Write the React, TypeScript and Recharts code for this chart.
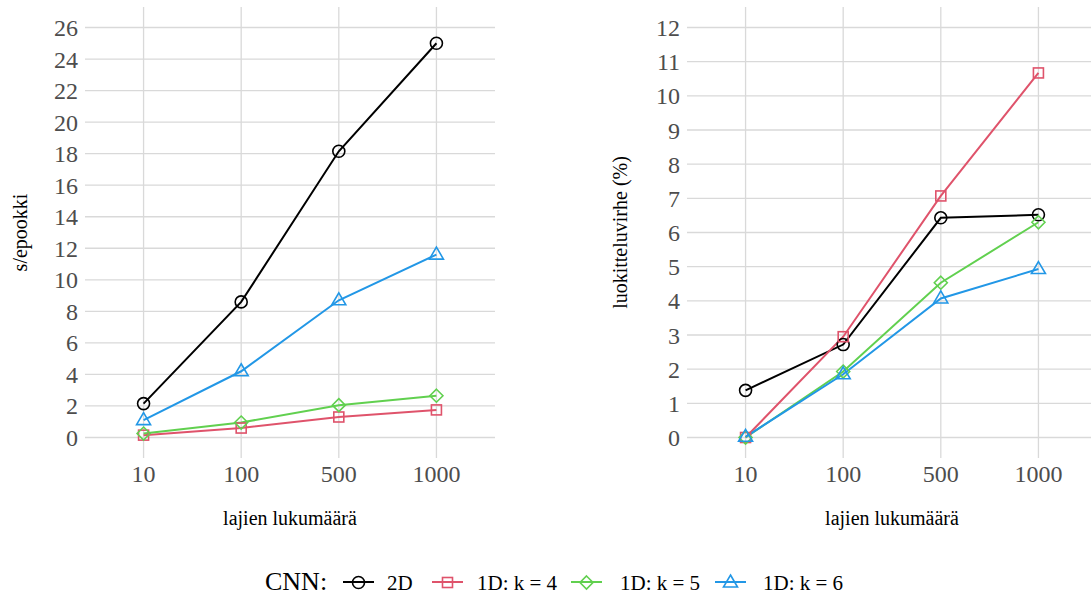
import React from "react";
import { LineChart, Line, XAxis, YAxis, CartesianGrid, Label } from "recharts";

// lajien lukumäärä (x-akseli)
const categories = ["10", "100", "500", "1000"];

// s/epookki
const time2D = [2.15, 8.6, 18.15, 25.0];
const timeK4 = [0.15, 0.6, 1.3, 1.75];
const timeK5 = [0.25, 0.95, 2.05, 2.65];
const timeK6 = [1.1, 4.2, 8.7, 11.6];

// luokitteluvirhe (%)
const err2D = [1.38, 2.72, 6.43, 6.52];
const errK4 = [0, 2.95, 7.07, 10.67];
const errK5 = [0, 1.93, 4.53, 6.3];
const errK6 = [0.02, 1.85, 4.07, 4.93];

const timeTicks = [0, 2, 4, 6, 8, 10, 12, 14, 16, 18, 20, 22, 24, 26];
const errTicks = [0, 1, 2, 3, 4, 5, 6, 7, 8, 9, 10, 11, 12];
const xTicks = [0, 1, 2, 3];

const seriesNames = ["2D", "1D: k = 4", "1D: k = 5", "1D: k = 6"];
const seriesKeys = ["s2d", "k4", "k5", "k6"];
const seriesColors = ["#000000", "#DF536B", "#61D04F", "#2297E6"];
const seriesShapes = ["circle", "square", "diamond", "triangle"];

const FONT = "Liberation Serif, DejaVu Serif, serif";
const GRID = "#d9d9d9";

// legend layout (px from left edge)
const legendKeyX = [343, 432, 571, 715];
const legendTextX = [387, 477, 620, 763];

const buildRows = (a: number[], b: number[], c: number[], d: number[]) =>
  categories.map((label, i) => ({ x: i, label, s2d: a[i], k4: b[i], k5: c[i], k6: d[i] }));

const timeRows = buildRows(time2D, timeK4, timeK5, timeK6);
const errRows = buildRows(err2D, errK4, errK5, errK6);

const Marker = ({ shape, cx, cy, color }: { shape: string; cx: number; cy: number; color: string }) => {
  const sw = 1.6;
  if (shape === "circle") return <circle cx={cx} cy={cy} r={6} fill="none" stroke={color} strokeWidth={sw} />;
  if (shape === "square") return <rect x={cx - 5} y={cy - 5} width={10} height={10} fill="none" stroke={color} strokeWidth={sw} />;
  if (shape === "diamond")
    return <polygon points={`${cx},${cy - 6.5} ${cx + 6.5},${cy} ${cx},${cy + 6.5} ${cx - 6.5},${cy}`} fill="none" stroke={color} strokeWidth={sw} />;
  return <polygon points={`${cx},${cy - 7.5} ${cx + 7},${cy + 4.5} ${cx - 7},${cy + 4.5}`} fill="none" stroke={color} strokeWidth={sw} />;
};

const makeDot = (shape: string, color: string) => (props: any) => {
  const { cx, cy, index } = props;
  if (cx == null || cy == null) return <g key={`d-${index}`} />;
  return (
    <g key={`d-${shape}-${index}`}>
      <Marker shape={shape} cx={cx} cy={cy} color={color} />
    </g>
  );
};

interface PanelProps {
  rows: any[];
  ticks: number[];
  domain: [number, number];
  yTitle: string;
  yAxisWidth: number;
}

const tickStyle = { fill: "#4d4d4d", fontSize: 24, fontFamily: FONT };

const Panel = ({ rows, ticks, domain, yTitle, yAxisWidth }: PanelProps) => {
  const titleX = 20;
  return (
    <LineChart
      width={500}
      height={540}
      data={rows}
      style={{ fontFamily: FONT }}
      margin={{ top: 7, right: 500 - yAxisWidth - 410, left: 0, bottom: 0 }}
    >
      <CartesianGrid stroke={GRID} strokeWidth={1.3} horizontalValues={ticks} verticalValues={xTicks} />
      <XAxis
        type="number"
        dataKey="x"
        domain={[-0.6, 3.6]}
        ticks={xTicks}
        interval={0}
        allowDataOverflow
        tickFormatter={(v: number) => categories[v]}
        tickLine={false}
        axisLine={false}
        tickSize={0}
        tickMargin={7}
        height={82}
        tick={tickStyle}
      >
        <Label
          content={(p: any) => {
            const vb = p.viewBox || { x: yAxisWidth, y: 458, width: 410 };
            return (
              <text x={vb.x + vb.width / 2} y={525} textAnchor="middle" fontSize={20} fontFamily={FONT} fill="#000">
                lajien lukumäärä
              </text>
            );
          }}
        />
      </XAxis>
      <YAxis
        type="number"
        domain={domain}
        ticks={ticks}
        interval={0}
        allowDataOverflow
        width={yAxisWidth}
        tickLine={false}
        axisLine={false}
        tickSize={0}
        tickMargin={7}
        tick={tickStyle}
      >
        <Label
          content={(p: any) => {
            const vb = p.viewBox || { y: 7, height: 451 };
            const cy = vb.y + vb.height / 2;
            return (
              <text
                x={titleX}
                y={cy}
                transform={`rotate(-90 ${titleX} ${cy})`}
                textAnchor="middle"
                dominantBaseline="central"
                fontSize={20}
                fontFamily={FONT}
                fill="#000"
              >
                {yTitle}
              </text>
            );
          }}
        />
      </YAxis>
      {seriesKeys.map((k, i) => (
        <Line
          key={k}
          dataKey={k}
          name={seriesNames[i]}
          stroke={seriesColors[i]}
          strokeWidth={2}
          dot={makeDot(seriesShapes[i], seriesColors[i])}
          activeDot={false}
          isAnimationActive={false}
        />
      ))}
    </LineChart>
  );
};

const LegendRow = () => (
  <div style={{ position: "absolute", left: 0, top: 568, width: 1091, height: 28, fontFamily: FONT, color: "#000" }}>
    <span style={{ position: "absolute", left: 265, top: 0, fontSize: 26, lineHeight: "28px" }}>CNN:</span>
    {seriesNames.map((name, i) => (
      <React.Fragment key={name}>
        <svg width={31} height={18} style={{ position: "absolute", left: legendKeyX[i], top: 5 }}>
          <line x1={0} y1={9} x2={31} y2={9} stroke={seriesColors[i]} strokeWidth={2} />
          <Marker shape={seriesShapes[i]} cx={15.5} cy={9.5} color={seriesColors[i]} />
        </svg>
        <span style={{ position: "absolute", left: legendTextX[i], top: 0, fontSize: 21, lineHeight: "30px", whiteSpace: "nowrap" }}>
          {name}
        </span>
      </React.Fragment>
    ))}
  </div>
);

export default function App() {
  return (
    <div style={{ position: "absolute", left: 0, top: 0, width: 1091, height: 595, overflow: "hidden", background: "#fff" }}>
      <div style={{ position: "absolute", left: 0, top: 0 }}>
        <Panel rows={timeRows} ticks={timeTicks} domain={[-1.3, 27.3]} yTitle="s/epookki" yAxisWidth={85} />
      </div>
      <div style={{ position: "absolute", left: 600, top: 0 }}>
        <Panel rows={errRows} ticks={errTicks} domain={[-0.6, 12.6]} yTitle="luokitteluvirhe (%)" yAxisWidth={87} />
      </div>
      <LegendRow />
    </div>
  );
}
